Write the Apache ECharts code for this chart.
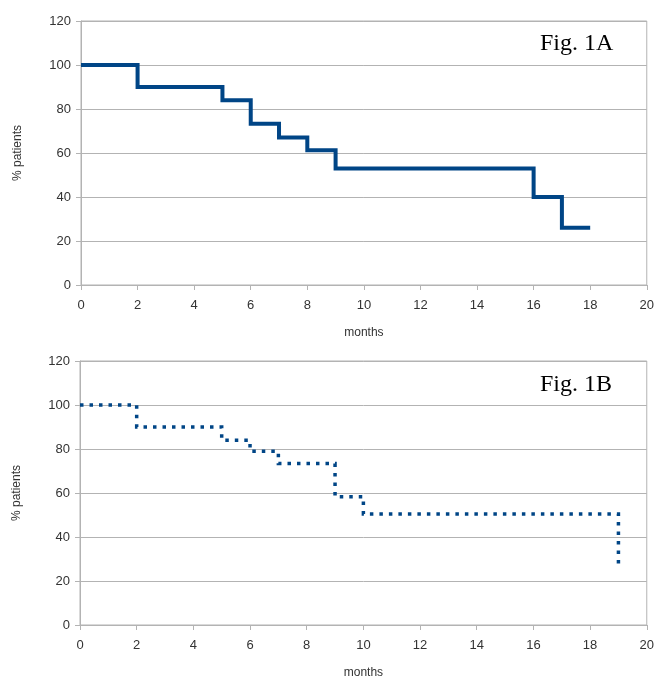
<!DOCTYPE html>
<html>
<head>
<meta charset="utf-8">
<script src="https://cdn.jsdelivr.net/npm/echarts@6/dist/echarts.min.js"></script>
<style>
html,body{margin:0;padding:0;background:#fff;}
#c{width:657px;height:682px;}
</style>
</head>
<body>
<div id="c"></div>
<script>
// Fig. 1A
const monthsA = [0, 2, 5, 6, 7, 8, 9, 16, 17, 18];
const patientsA = [100, 90, 84, 73.3, 67, 61.3, 53, 40, 26, 26];
// Fig. 1B
const monthsB = [0, 2, 5, 6, 7, 9, 10, 19];
const patientsB = [100, 90, 84, 79, 73.4, 58.3, 50.4, 26];
const yTicks = [0, 20, 40, 60, 80, 100, 120];
const xTicks = [0, 2, 4, 6, 8, 10, 12, 14, 16, 18, 20];

const blue = '#004586';
const gray = '#b3b3b3';
const sans = 'Liberation Sans, Arial, sans-serif';
const labelFont = {color: '#333', fontSize: 13, fontFamily: sans};

function xAxis(gi){
  return {
    type: 'value', gridIndex: gi, min: xTicks[0], max: xTicks[xTicks.length-1], interval: 2,
    name: 'months', nameLocation: 'middle', nameGap: 42,
    nameTextStyle: {color: '#333', fontSize: 12, fontFamily: sans},
    axisLine: {show: true, lineStyle: {color: gray, width: 1}},
    axisTick: {show: true, length: 5, lineStyle: {color: gray}},
    axisLabel: Object.assign({margin: 14}, labelFont),
    splitLine: {show: false}
  };
}
function yAxis(gi){
  return {
    type: 'value', gridIndex: gi, min: yTicks[0], max: yTicks[yTicks.length-1], interval: 20,
    name: '% patients', nameLocation: 'middle', nameGap: 57, nameRotate: 90,
    nameTextStyle: {color: '#333', fontSize: 12, fontFamily: sans},
    axisLine: {show: true, lineStyle: {color: gray, width: 1}},
    axisTick: {show: true, length: 5, lineStyle: {color: gray}},
    axisLabel: Object.assign({margin: 10}, labelFont),
    splitLine: {show: true, lineStyle: {color: gray, width: 1}}
  };
}

const serif = {fontFamily: 'Liberation Serif, Times New Roman, serif', fontWeight: 'normal', fontSize: 24, color: '#000'};
const chart = echarts.init(document.getElementById('c'), null, {renderer: 'canvas'});
chart.setOption({
  animation: false,
  backgroundColor: '#fff',
  title: [
    {text: 'Fig. 1A', left: 540, top: 32, textStyle: serif, padding: 0},
    {text: 'Fig. 1B', left: 540, top: 373, textStyle: serif, padding: 0}
  ],
  grid: [
    {left: 81, right: 8, top: 21, bottom: 397, show: true, borderColor: gray, borderWidth: 1, backgroundColor: 'transparent'},
    {left: 80, right: 6, top: 361, bottom: 57, show: true, borderColor: gray, borderWidth: 1, backgroundColor: 'transparent'}
  ],
  xAxis: [xAxis(0), xAxis(1)],
  yAxis: [yAxis(0), yAxis(1)],
  series: [
    {
      type: 'line', xAxisIndex: 0, yAxisIndex: 0, step: 'end', symbol: 'none',
      data: monthsA.map((m, i) => [m, patientsA[i]]),
      lineStyle: {color: blue, width: 4, cap: 'butt', join: 'miter'}
    },
    {
      type: 'line', xAxisIndex: 1, yAxisIndex: 1, step: 'end', symbol: 'none',
      data: monthsB.map((m, i) => [m, patientsB[i]]),
      lineStyle: {color: blue, width: 3.5, type: [3.5, 6], cap: 'butt', join: 'miter'}
    }
  ]
});
</script>
</body>
</html>
